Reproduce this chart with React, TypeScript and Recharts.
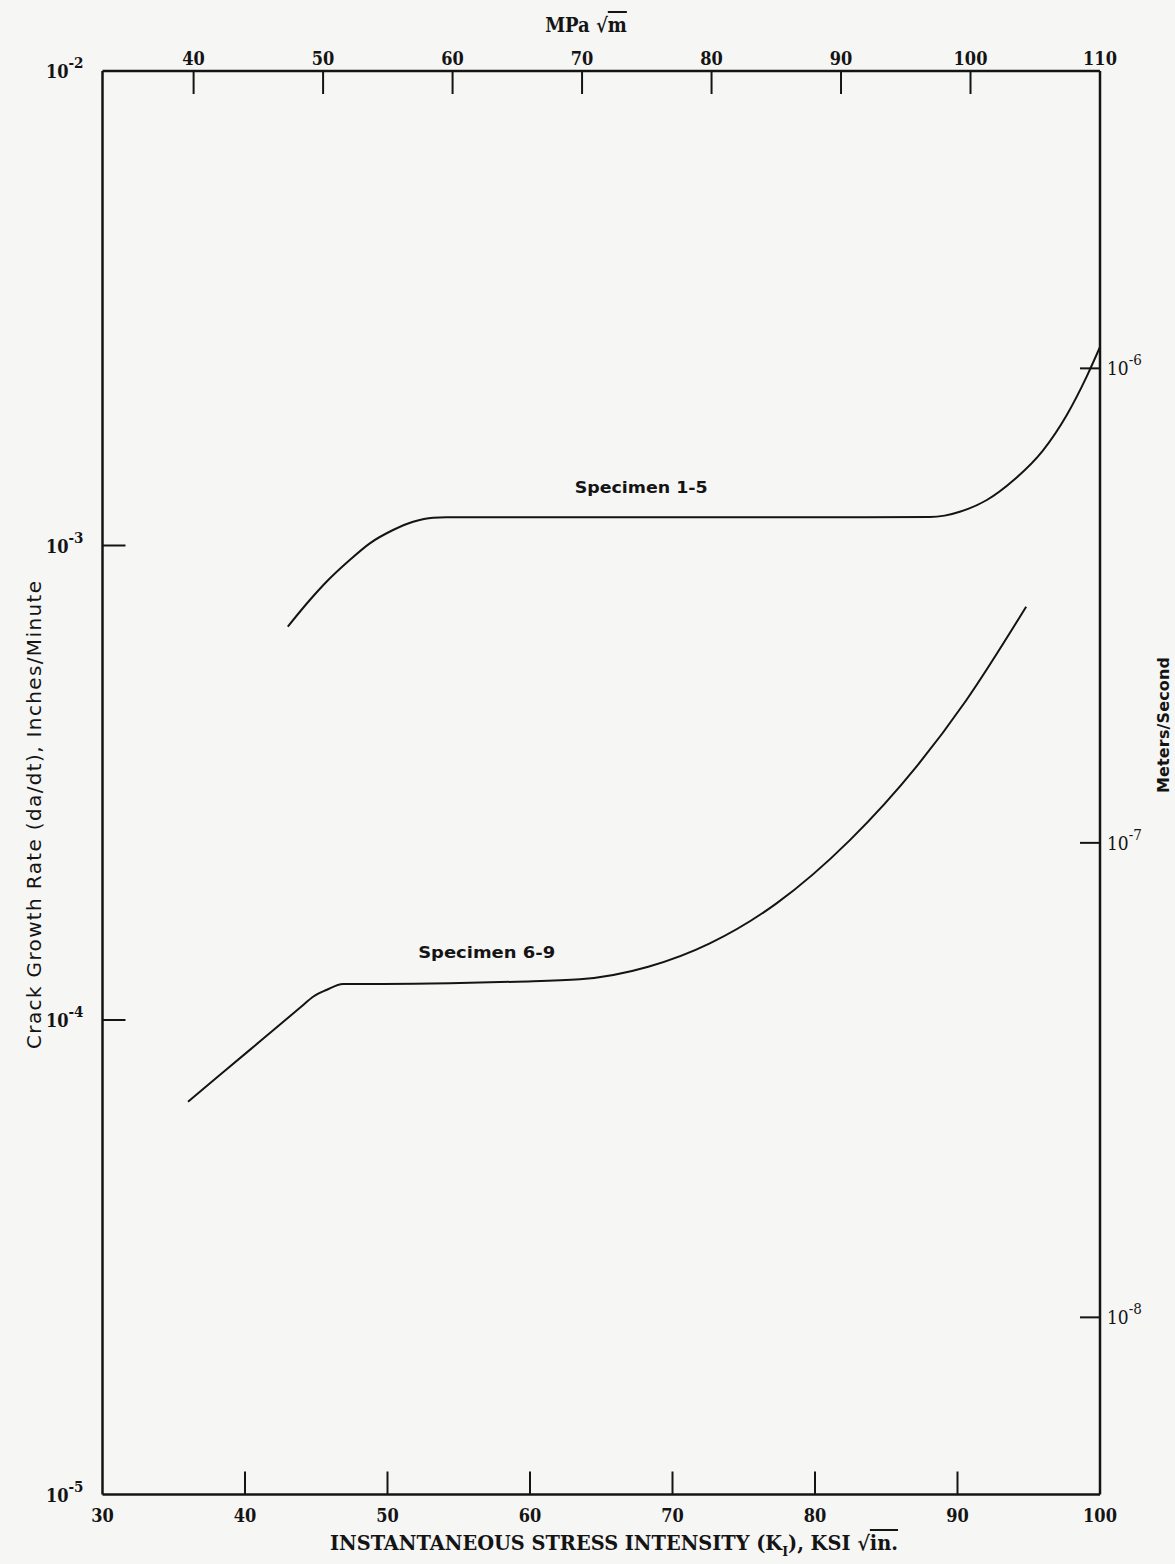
import React from 'react';
import { LineChart, Line, XAxis, YAxis, ReferenceDot } from 'recharts';

// secondary axes are unit conversions of the primary ones
const KSI_TO_MPA = 1.0988;
const INMIN_TO_MS = 0.0254 / 60;

const ksiTicks = [30, 40, 50, 60, 70, 80, 90, 100];
const mpaTicks = [40, 50, 60, 70, 80, 90, 100, 110];
const rateTicks = [1e-5, 1e-4, 1e-3, 1e-2];
const msTicks = [1e-8, 1e-7, 1e-6];

// Specimen 1-5: K (ksi sqrt in) vs da/dt (in/min)
const spec15K = [43.0, 44.55, 45.72, 47.35, 48.76, 50.39, 51.8, 53.2, 54.14, 60, 70, 80, 88.05, 89.1, 90.16, 92.06, 93.95, 95.99, 97.67, 99.08, 100];
const spec15Rate = [6.745e-4, 7.675e-4, 8.387e-4, 9.32e-4, 1.0106e-3, 1.0781e-3, 1.1224e-3, 1.1444e-3, 1.1465e-3, 1.147e-3, 1.147e-3, 1.147e-3, 1.148e-3, 1.156e-3, 1.178e-3, 1.247e-3, 1.374e-3, 1.585e-3, 1.884e-3, 2.275e-3, 2.62e-3];

// Specimen 6-9
const spec69K = [36.0, 38.0, 40.34, 42.0, 44.0, 44.78, 45.71, 46.88, 49.69, 54.37, 59.05, 63.5, 68.3, 72.62, 77.3, 82.45, 87.12, 90.63, 94.82];
const spec69Rate = [6.727e-5, 7.553e-5, 8.65e-5, 9.528e-5, 1.07e-4, 1.1195e-4, 1.1565e-4, 1.1909e-4, 1.1909e-4, 1.1947e-4, 1.2043e-4, 1.2183e-4, 1.295e-4, 1.4505e-4, 1.7613e-4, 2.394e-4, 3.4197e-4, 4.7258e-4, 7.43e-4];

const spec15 = spec15K.map((k, i) => ({ k, mpa: k * KSI_TO_MPA, r: spec15Rate[i] }));
const spec69 = spec69K.map((k, i) => ({ k, mpa: k * KSI_TO_MPA, r: spec69Rate[i] }));

const INK = '#141414';
const PAPER = '#f6f6f4';
const SERIF = "'DejaVu Serif Condensed', 'DejaVu Serif', serif";
const SANS = "'DejaVu Sans', sans-serif";
const TICK_LEN = 23;

const Pow10 = ({ v, x, y, anchor, bold }: any) => {
  const e = Math.abs(Math.round(Math.log10(v)));
  return (
    <text x={x} y={y} textAnchor={anchor} fill={INK} fontFamily={SERIF} fontStretch="condensed"
      fontWeight={bold ? 700 : 400} fontSize={bold ? 18 : 19}>
      10<tspan dy={-10} fontSize={15}>-{e}</tspan>
    </text>
  );
};

const LeftTick = (props: any) => {
  const { x, y, payload } = props;
  const v = payload.value;
  const inner = v > 2e-5 && v < 5e-3;
  return (
    <g>
      {inner && <line x1={x} y1={y} x2={x + TICK_LEN} y2={y} stroke={INK} strokeWidth={2} />}
      <Pow10 v={v} x={x - 19} y={y + 7} anchor="end" bold />
    </g>
  );
};

const RightTick = (props: any) => {
  const { x, y, payload } = props;
  return (
    <g>
      <line x1={x} y1={y} x2={x - 20} y2={y} stroke={INK} strokeWidth={2} />
      <Pow10 v={payload.value} x={x + 7} y={y + 7} anchor="start" />
    </g>
  );
};

const BottomTick = (props: any) => {
  const { x, y, payload } = props;
  const v = payload.value;
  const inner = v > 30 && v < 100;
  return (
    <g>
      {inner && <line x1={x} y1={y} x2={x} y2={y - TICK_LEN} stroke={INK} strokeWidth={2} />}
      <text x={x} y={y + 27} textAnchor="middle" fill={INK} fontFamily={SERIF} fontStretch="condensed"
        fontWeight={700} fontSize={18}>{v}</text>
    </g>
  );
};

const TopTick = (props: any) => {
  const { x, y, payload } = props;
  const v = payload.value;
  const inner = v < 105;
  return (
    <g>
      {inner && <line x1={x} y1={y} x2={x} y2={y + TICK_LEN} stroke={INK} strokeWidth={2} />}
      <text x={x} y={y - 6} textAnchor="middle" fill={INK} fontFamily={SERIF} fontStretch="condensed"
        fontWeight={700} fontSize={18}>{v}</text>
    </g>
  );
};

const specLabel = (text: string, len: number) => (p: any) => {
  const { x, y } = p.viewBox;
  return (
    <text x={x} y={y + 6} textAnchor="middle" fill={INK} fontFamily={SANS} fontSize={16} fontWeight={700}
      textLength={len} lengthAdjust="spacingAndGlyphs">{text}</text>
  );
};

const axisLine = { stroke: INK, strokeWidth: 2.5 };

export default function App() {
  return (
    <div style={{ position: 'absolute', left: 0, top: 0, width: 1175, height: 1564, background: PAPER }}>
      <LineChart width={1175} height={1564} margin={{ top: 70, right: 74, bottom: 68.5, left: 101.5 }}>
        <XAxis xAxisId="ksi" type="number" dataKey="k" domain={[30, 100]} ticks={ksiTicks} interval={0}
          orientation="bottom" height={1} allowDataOverflow axisLine={axisLine} tickLine={false}
          tickSize={0} tickMargin={0} tick={BottomTick} />
        <XAxis xAxisId="mpa" type="number" dataKey="mpa" domain={[30 * KSI_TO_MPA, 110]} ticks={mpaTicks}
          interval={0} orientation="top" height={1} allowDataOverflow axisLine={axisLine} tickLine={false}
          tickSize={0} tickMargin={0} tick={TopTick} />
        <YAxis yAxisId="in" scale="log" domain={[1e-5, 1e-2]} ticks={rateTicks} interval={0}
          orientation="left" width={1} allowDataOverflow axisLine={axisLine} tickLine={false}
          tickSize={0} tickMargin={0} tick={LeftTick} />
        <YAxis yAxisId="ms" scale="log" domain={[1e-5 * INMIN_TO_MS, 1e-2 * INMIN_TO_MS]} ticks={msTicks}
          interval={0} orientation="right" width={1} allowDataOverflow axisLine={axisLine} tickLine={false}
          tickSize={0} tickMargin={0} tick={RightTick} />
        {/* invisible copy so the MPa axis has data of its own */}
        <Line xAxisId="mpa" yAxisId="in" data={spec15} dataKey="r" type="monotone" stroke="none"
          dot={false} activeDot={false} isAnimationActive={false} />
        <Line xAxisId="ksi" yAxisId="in" data={spec15} dataKey="r" type="monotone" stroke={INK}
          strokeWidth={2} dot={false} isAnimationActive={false} />
        <Line xAxisId="ksi" yAxisId="in" data={spec69} dataKey="r" type="monotone" stroke={INK}
          strokeWidth={2} dot={false} isAnimationActive={false} />
        <ReferenceDot xAxisId="ksi" yAxisId="in" x={67.8} y={1.327e-3} r={0} fill="none" stroke="none"
          label={{ content: specLabel('Specimen 1-5', 133) }} />
        <ReferenceDot xAxisId="ksi" yAxisId="in" x={56.96} y={1.39e-4} r={0} fill="none" stroke="none"
          label={{ content: specLabel('Specimen 6-9', 137) }} />
      </LineChart>
      <svg width={1175} height={1564} style={{ position: 'absolute', left: 0, top: 0, pointerEvents: 'none' }}>
        <text x={586} y={32} textAnchor="middle" fill={INK} fontFamily={SERIF} fontStretch="condensed"
          fontWeight={700} fontSize={20}>
          MPa √<tspan style={{ textDecoration: 'overline' }}>m</tspan>
        </text>
        <text x={614} y={1550} textAnchor="middle" fill={INK} fontFamily={SERIF} fontStretch="condensed"
          fontWeight={700} fontSize={20} textLength={568} lengthAdjust="spacingAndGlyphs">
          INSTANTANEOUS STRESS INTENSITY (K<tspan dy={6} fontSize={13}>I</tspan>
          <tspan dy={-6}>), KSI √</tspan><tspan style={{ textDecoration: 'overline' }}>in.</tspan>
        </text>
        <text transform="translate(41, 815) rotate(-90)" textAnchor="middle" fill={INK} fontFamily={SANS}
          fontSize={20} textLength={468} lengthAdjust="spacing">
          Crack Growth Rate (da/dt), Inches/Minute
        </text>
        <text transform="translate(1169, 725) rotate(-90)" textAnchor="middle" fill={INK} fontFamily={SANS}
          fontSize={16} fontWeight={700} textLength={136} lengthAdjust="spacing">
          Meters/Second
        </text>
      </svg>
    </div>
  );
}
